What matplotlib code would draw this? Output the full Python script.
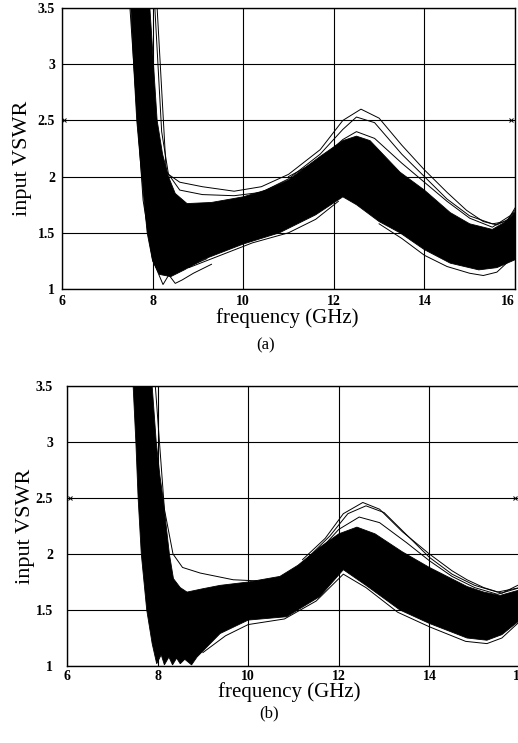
import numpy as np
import matplotlib
matplotlib.use("Agg")
import matplotlib.pyplot as plt

plt.rcParams["font.family"] = ["Liberation Serif", "DejaVu Serif"]

X_TICKS = [6, 8, 10, 12, 14, 16]
Y_TICKS = [1, 1.5, 2, 2.5, 3, 3.5]
Y_TICK_LABELS = ["1", "1.5", "2", "2.5", "3", "3.5"]
SPEC_VSWR = 2.5

# ---- panel (a): dense Monte Carlo band (upper / lower edge) ----
A_HI_F = [7.70, 7.94, 8.02, 8.10, 8.22, 8.35, 8.50, 8.76, 9.30, 10.0, 10.5, 11.0,
          11.7, 12.2, 12.5, 12.8, 13.46, 14.0, 14.57, 15.0, 15.5, 15.8, 16.0]
A_HI_V = [4.60, 3.50, 3.00, 2.50, 2.20, 2.00, 1.85, 1.76, 1.77, 1.82, 1.88, 1.97,
          2.18, 2.32, 2.36, 2.32, 2.04, 1.88, 1.68, 1.58, 1.53, 1.60, 1.68]
A_LO_F = [7.35, 7.52, 7.58, 7.65, 7.76, 7.88, 8.00, 8.15, 8.40, 8.70, 9.10, 10.0,
          10.8, 11.6, 12.2, 12.5, 13.0, 13.46, 14.0, 14.57, 15.2, 15.6, 16.0]
A_LO_V = [4.60, 3.50, 3.00, 2.50, 2.00, 1.50, 1.25, 1.13, 1.11, 1.17, 1.26, 1.40,
          1.50, 1.66, 1.82, 1.75, 1.60, 1.50, 1.35, 1.23, 1.17, 1.19, 1.26]

# panel (a): stray curves outside the band
A_OUTLIERS = [
    ([8.05, 8.20, 8.35, 8.60, 9.10, 9.80, 10.4, 11.0, 11.7, 12.2, 12.6, 13.0, 13.5,
      14.0, 14.5, 14.93, 15.3, 15.6, 15.85, 16.0],
     [3.50, 2.40, 2.02, 1.95, 1.91, 1.87, 1.91, 2.02, 2.24, 2.50, 2.60, 2.52, 2.28,
      2.06, 1.86, 1.70, 1.60, 1.57, 1.62, 1.72]),
    ([8.10, 8.30, 8.60, 9.10, 9.80, 10.4, 11.0, 11.7, 12.2, 12.5, 12.9, 13.5, 14.0,
      14.5, 15.0, 15.5, 15.8, 16.0],
     [3.50, 2.05, 1.88, 1.84, 1.83, 1.86, 1.98, 2.20, 2.42, 2.53, 2.48, 2.20, 2.00,
      1.80, 1.65, 1.58, 1.60, 1.70]),
    ([11.0, 11.7, 12.2, 12.5, 12.9, 13.5, 14.0, 14.5, 15.0, 15.5, 16.0],
     [2.00, 2.15, 2.33, 2.40, 2.34, 2.12, 1.95, 1.78, 1.63, 1.55, 1.68]),
    ([7.50, 7.79, 8.00, 8.23, 8.38, 8.55, 8.80, 9.20],
     [3.50, 1.79, 1.26, 1.04, 1.14, 1.17, 1.20, 1.27]),
    ([8.35, 8.50, 8.65, 8.90, 9.30],
     [1.13, 1.05, 1.08, 1.14, 1.22]),
    ([13.0, 13.5, 14.0, 14.5, 15.0, 15.3, 15.6, 16.0],
     [1.58, 1.45, 1.30, 1.20, 1.14, 1.12, 1.15, 1.30]),
    ([8.80, 9.50, 10.2, 11.0, 11.6, 12.1],
     [1.19, 1.30, 1.41, 1.50, 1.62, 1.78]),
]

# ---- panel (b) ----
B_HI_F = [7.65, 7.88, 7.97, 8.05, 8.12, 8.19, 8.26, 8.35, 8.50, 8.65, 9.0, 9.38,
          10.0, 10.7, 11.1, 11.58, 12.0, 12.4, 12.8, 13.4, 14.0, 14.83, 15.2, 15.56, 16.0]
B_HI_V = [4.60, 3.50, 3.00, 2.70, 2.50, 2.25, 2.00, 1.78, 1.70, 1.66, 1.69, 1.72,
          1.75, 1.80, 1.90, 2.06, 2.18, 2.24, 2.18, 2.02, 1.88, 1.71, 1.66, 1.63, 1.68]
B_LO_F = [7.30, 7.46, 7.52, 7.57, 7.64, 7.76, 7.88, 7.98, 8.08, 8.15, 8.25, 8.33,
          8.42, 8.50, 8.60, 8.75, 8.87, 9.38, 10.0, 10.85, 11.58, 12.1, 12.6, 13.35,
          14.0, 14.83, 15.27, 15.6, 16.0]
B_LO_V = [4.60, 3.50, 3.00, 2.50, 2.00, 1.50, 1.20, 1.02, 1.10, 1.01, 1.08, 1.01,
          1.07, 1.02, 1.06, 1.01, 1.08, 1.29, 1.41, 1.44, 1.62, 1.86, 1.72, 1.50,
          1.38, 1.25, 1.23, 1.28, 1.41]

B_OUTLIERS = [
    ([11.2, 11.7, 12.1, 12.53, 12.9, 13.4, 14.0, 14.5, 14.83, 15.2, 15.6, 16.0],
     [1.95, 2.14, 2.36, 2.46, 2.40, 2.20, 2.00, 1.85, 1.77, 1.70, 1.65, 1.73]),
    ([11.3, 11.8, 12.2, 12.6, 13.0, 13.5, 14.0, 14.5, 15.0, 15.5, 16.0],
     [1.96, 2.16, 2.36, 2.43, 2.37, 2.17, 1.97, 1.82, 1.72, 1.66, 1.70]),
    ([11.5, 12.0, 12.45, 12.9, 13.5, 14.0, 14.5, 15.0, 15.5, 16.0],
     [2.00, 2.22, 2.33, 2.28, 2.10, 1.94, 1.80, 1.70, 1.64, 1.70]),
    ([7.95, 8.15, 8.34, 8.55, 8.94, 9.67, 10.2],
     [3.50, 2.40, 2.00, 1.88, 1.83, 1.77, 1.76]),
    ([9.0, 9.5, 10.0, 10.8, 11.5, 12.1, 12.6, 13.3, 14.0, 14.8, 15.27, 15.6, 16.0],
     [1.12, 1.27, 1.37, 1.42, 1.58, 1.82, 1.70, 1.48, 1.35, 1.22, 1.20, 1.25, 1.40]),
]


def draw_panel(ax, hi_f, hi_v, lo_f, lo_v, outliers, marker_f, ypad, xpad):
    # dense band of curves as a filled polygon
    poly_f = np.r_[hi_f, lo_f[::-1]]
    poly_v = np.r_[hi_v, lo_v[::-1]]
    ax.fill(poly_f, poly_v, color="black", lw=0.6, ec="black", zorder=3)
    for f, v in outliers:
        ax.plot(f, v, color="black", lw=0.7, zorder=3)

    # spec markers on the 2.5 line
    ax.plot(marker_f, [SPEC_VSWR, SPEC_VSWR], ls="none", marker="x", ms=3,
            mew=0.7, color="black", zorder=4, clip_on=False)

    ax.set_xlim(6, 16)
    ax.set_ylim(1, 3.5)
    ax.set_xticks(X_TICKS)
    ax.set_yticks(Y_TICKS)
    ax.set_yticklabels(Y_TICK_LABELS)
    ax.grid(True, color="black", lw=0.8)
    ax.set_axisbelow(True)
    ax.tick_params(length=0, labelsize=10)
    ax.tick_params(axis="y", pad=ypad)
    ax.tick_params(axis="x", pad=xpad)
    for lab in ax.get_xticklabels() + ax.get_yticklabels():
        lab.set_fontweight("bold")
    for s in ax.spines.values():
        s.set_linewidth(1.0)
    ax.set_xlabel("frequency (GHz)", fontsize=15)
    ax.set_ylabel("input VSWR", fontsize=16)


fig = plt.figure(figsize=(5.18, 7.43), dpi=100)
ax_a = fig.add_axes([62 / 518, 1 - 289 / 743, 453 / 518, 281 / 743])
ax_b = fig.add_axes([67 / 518, 1 - 666 / 743, 453 / 518, 280 / 743])

draw_panel(ax_a, A_HI_F, A_HI_V, A_LO_F, A_LO_V, A_OUTLIERS, [6.04, 15.91], 5, 4)
draw_panel(ax_b, B_HI_F, B_HI_V, B_LO_F, B_LO_V, B_OUTLIERS, [6.06, 15.9], 10, 3)

# the "16" of panel (a) sits flush against the right edge
ax_a.get_xticklabels()[-1].set_horizontalalignment("right")

ax_a.xaxis.set_label_coords(0.497, -0.068)
ax_a.yaxis.set_label_coords(-0.066, 0.466)
ax_b.xaxis.set_label_coords(0.49, -0.058)
ax_b.yaxis.set_label_coords(-0.071, 0.5)

fig.text(0.513, 1 - 345 / 743, "(a)", ha="center", va="center", fontsize=12)
fig.text(0.519, 1 - 713 / 743, "(b)", ha="center", va="center", fontsize=12)

fig.savefig("out.png", dpi=100)
